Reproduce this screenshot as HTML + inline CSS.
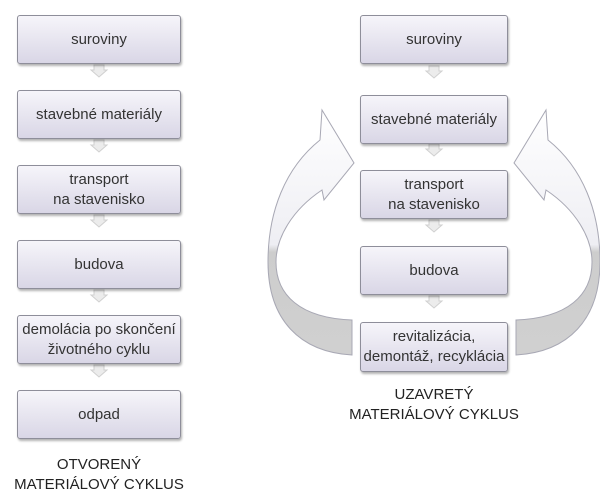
<!DOCTYPE html>
<html><head><meta charset="utf-8"><style>
body{margin:0;background:#fff;width:600px;height:500px;position:relative;overflow:hidden;font-family:"Liberation Sans",sans-serif}
.b{position:absolute;box-sizing:border-box;border:1px solid #8e8e9a;border-radius:3px;background:linear-gradient(to bottom,#f6f5fa,#d9d6e6);box-shadow:1px 2px 2px rgba(0,0,0,.3);display:flex;align-items:center;justify-content:center;text-align:center;font-size:15px;color:#333;line-height:20px;white-space:nowrap}
.l{left:17px;width:164px;height:49px}
.r{left:360px;width:148px;height:49px}
.t{position:absolute;font-size:15px;color:#222;text-align:center;line-height:20px}
</style></head><body>
<svg width="600" height="500" style="position:absolute;left:0;top:0">
<defs><linearGradient id="g" x1="0" y1="0" x2="0" y2="1"><stop offset="0" stop-color="#fff"/><stop offset=".55" stop-color="#eeeef3"/><stop offset=".58" stop-color="#cdcdcd"/><stop offset="1" stop-color="#d0d0d0"/></linearGradient>
<g id="dn"><path d="M-5,0 H5 V5 H8 L0,12 L-8,5 H-5 Z" fill="#ececec" stroke="#d0d0d0"/></g></defs>
<path d="M352,355 C300,352 268,320 268,262 C268,212 285,168 320,140 L322,110 L354,163 L324,200 L322,190 C292,210 276,238 276,262 C276,295 300,318 352,320 Z" fill="url(#g)" stroke="#a8a8b4"/>
<path d="M352,355 C300,352 268,320 268,262 C268,212 285,168 320,140 L322,110 L354,163 L324,200 L322,190 C292,210 276,238 276,262 C276,295 300,318 352,320 Z" transform="translate(868,0) scale(-1,1)" fill="url(#g)" stroke="#a8a8b4"/>
<use href="#dn" x="99" y="65"/><use href="#dn" x="99" y="140"/><use href="#dn" x="99" y="215"/><use href="#dn" x="99" y="290"/><use href="#dn" x="99" y="365"/>
<use href="#dn" x="434" y="66"/><use href="#dn" x="434" y="144"/><use href="#dn" x="434" y="220"/><use href="#dn" x="434" y="296"/>
</svg>
<div class="b l" style="top:15px">suroviny</div>
<div class="b l" style="top:90px">stavebné materiály</div>
<div class="b l" style="top:165px">transport<br>na stavenisko</div>
<div class="b l" style="top:240px">budova</div>
<div class="b l" style="top:315px">demolácia po skončení<br>životného cyklu</div>
<div class="b l" style="top:390px">odpad</div>
<div class="t" style="left:0;width:198px;top:455px">OTVORENÝ<br>MATERIÁLOVÝ CYKLUS</div>
<div class="b r" style="top:15px">suroviny</div>
<div class="b r" style="top:95px">stavebné materiály</div>
<div class="b r" style="top:170px">transport<br>na stavenisko</div>
<div class="b r" style="top:246px">budova</div>
<div class="b r" style="top:322px;height:50px">revitalizácia,<br>demontáž, recyklácia</div>
<div class="t" style="left:334px;width:200px;top:385px">UZAVRETÝ<br>MATERIÁLOVÝ CYKLUS</div>
</body></html>
